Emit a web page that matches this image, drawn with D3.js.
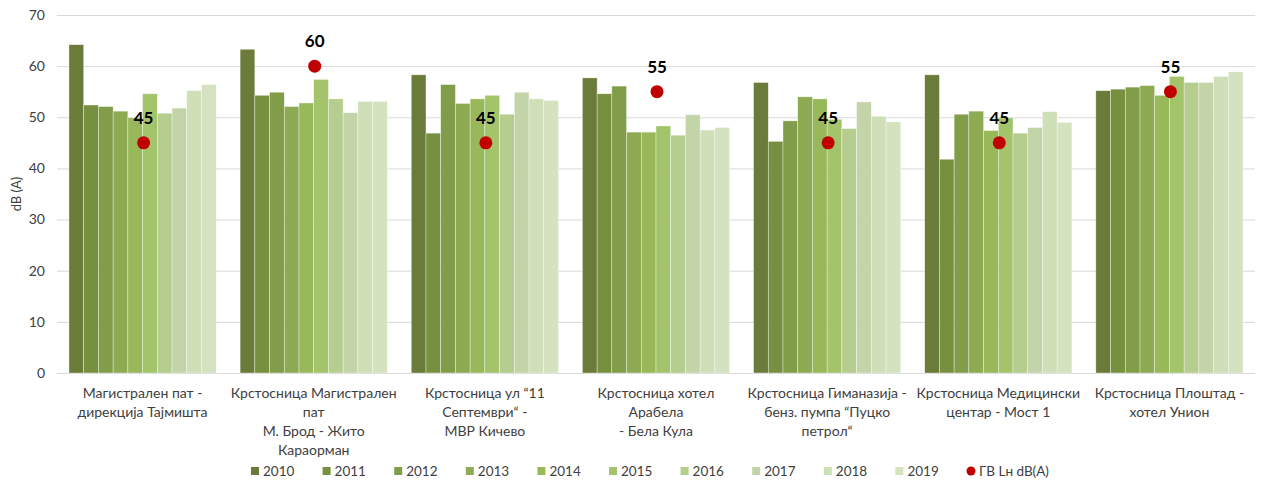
<!DOCTYPE html>
<html>
<head>
<meta charset="utf-8">
<script src="https://cdn.jsdelivr.net/npm/d3@7"></script>
<style>
  body { margin: 0; background: #fff; }
  svg { display: block; font-family: Lato, "Open Sans", sans-serif; }
</style>
</head>
<body>
<div id="chart"></div>
<script>
const width = 1261
const height = 482

// measuring points (x axis), each label split on lines
const sites = [
  ["Магистрален пат -", "дирекција Тајмишта"],
  ["Крстосница Магистрален", "пат", "М. Брод - Жито", "Караорман"],
  ["Крстосница ул “11", "Септември“ -", "МВР Кичево"],
  ["Крстосница хотел", "Арабела", "- Бела Кула"],
  ["Крстосница Гиманазија -", "бенз. пумпа “Пуцко", "петрол“"],
  ["Крстосница Медицински", "центар - Мост 1"],
  ["Крстосница Плоштад -", "хотел Унион"]
]

const years = ["2010", "2011", "2012", "2013", "2014", "2015", "2016", "2017", "2018", "2019"]

// Leq per site, one row per site, one value per year
const site1 = [64.2, 52.4, 52.1, 51.2, 49.9, 54.6, 50.8, 51.8, 55.2, 56.4]
const site2 = [63.3, 54.3, 54.9, 52.1, 52.8, 57.4, 53.6, 50.9, 53.1, 53.1]
const site3 = [58.3, 46.9, 56.4, 52.7, 53.6, 54.3, 50.6, 54.9, 53.6, 53.3]
const site4 = [57.7, 54.6, 56.1, 47.1, 47.1, 48.3, 46.5, 50.5, 47.5, 48.0]
const site5 = [56.8, 45.3, 49.3, 54.0, 53.6, 49.6, 47.8, 53.0, 50.2, 49.1]
const site6 = [58.3, 41.8, 50.6, 51.2, 47.4, 49.9, 46.9, 48.0, 51.1, 49.0]
const site7 = [55.2, 55.5, 55.9, 56.2, 54.3, 58.0, 56.8, 56.8, 58.0, 58.9]
const values = [site1, site2, site3, site4, site5, site6, site7]

// limit values (ГВ Lн dB(A))
const limits = [45, 60, 45, 55, 45, 45, 55]

const yTicks = [0, 10, 20, 30, 40, 50, 60, 70]

const colors = ["#6b7b3a", "#77903f", "#829d4a", "#8eaa52", "#98b85a",
                "#a3c46b", "#b5cd8e", "#c3d5a8", "#cfdfb8", "#d4e2bf"]

const margin = {top: 15, right: 6, bottom: 109, left: 57}

const svg = d3.select("#chart")
  .append("svg")
  .attr("width", width)
  .attr("height", height)

const y = d3.scaleLinear()
  .domain([0, 70])
  .range([height - margin.bottom, margin.top])

const x0 = d3.scaleBand()
  .domain(d3.range(sites.length))
  .range([margin.left, width - margin.right])
  .paddingInner(0.14)
  .paddingOuter(0.07)

const x1 = d3.scaleBand()
  .domain(years)
  .range([0, x0.bandwidth()])

// gridlines
svg.append("g")
  .selectAll("line")
  .data(yTicks)
  .join("line")
    .attr("x1", margin.left)
    .attr("x2", width - margin.right)
    .attr("y1", d => y(d) + 0.5)
    .attr("y2", d => y(d) + 0.5)
    .attr("stroke", "#d9d9d9")
    .attr("stroke-width", 1)

// y tick labels
svg.append("g")
  .selectAll("text")
  .data(yTicks)
  .join("text")
    .attr("x", 45)
    .attr("y", d => y(d))
    .attr("dy", "0.35em")
    .attr("text-anchor", "end")
    .attr("font-size", 14)
    .attr("fill", "#404040")
    .text(d => d)

svg.append("text")
  .attr("transform", `translate(16,${y(35)}) rotate(-90)`)
  .attr("text-anchor", "middle")
  .attr("dy", "0.35em")
  .attr("font-size", 13)
  .attr("fill", "#404040")
  .text("dB (A)")

// bars
const group = svg.append("g")
  .selectAll("g")
  .data(values)
  .join("g")
    .attr("transform", (d, i) => `translate(${x0(i)},0)`)

group.selectAll("rect")
  .data(d => d.map((v, j) => ({year: years[j], value: v, idx: j})))
  .join("rect")
    .attr("x", d => x1(d.year))
    .attr("width", x1.bandwidth())
    .attr("y", d => y(d.value))
    .attr("height", d => y(0) - y(d.value))
    .attr("fill", d => colors[d.idx])
    .attr("stroke", "#ffffff")
    .attr("stroke-opacity", 0.6)
    .attr("stroke-width", 0.6)

// limit dots
svg.append("g")
  .selectAll("circle")
  .data(limits)
  .join("circle")
    .attr("cx", (d, i) => x0(i) + x0.bandwidth() / 2 + 1)
    .attr("cy", d => y(d))
    .attr("r", 6.5)
    .attr("fill", "#c00000")

svg.append("g")
  .selectAll("text")
  .data(limits)
  .join("text")
    .attr("x", (d, i) => x0(i) + x0.bandwidth() / 2 + 1)
    .attr("y", d => y(d) - 19)
    .attr("text-anchor", "middle")
    .attr("font-size", 17)
    .attr("font-weight", "bold")
    .attr("fill", "#000")
    .text(d => d)

// x axis labels
const xl = svg.append("g")
  .selectAll("text")
  .data(sites)
  .join("text")
    .attr("x", (d, i) => x0(i) + x0.bandwidth() / 2)
    .attr("y", 398)
    .attr("text-anchor", "middle")
    .attr("font-size", 14)
    .attr("fill", "#404040")

xl.selectAll("tspan")
  .data(d => d)
  .join("tspan")
    .attr("x", function() { return this.parentNode.getAttribute("x") })
    .attr("dy", (d, i) => i === 0 ? 0 : 19)
    .text(d => d)

// legend
const legendItems = years.map((yr, i) => ({label: yr, color: colors[i], dot: false}))
legendItems.push({label: "ГВ Lн dB(A)", color: "#c00000", dot: true})

const legend = svg.append("g")
  .selectAll("g")
  .data(legendItems)
  .join("g")
    .attr("transform", (d, i) => `translate(${251 + i * 71.6},471)`)

legend.filter(d => !d.dot).append("rect")
  .attr("x", 0)
  .attr("y", -4)
  .attr("width", 8)
  .attr("height", 8)
  .attr("fill", d => d.color)

legend.filter(d => d.dot).append("circle")
  .attr("cx", 4)
  .attr("cy", 0)
  .attr("r", 4.5)
  .attr("fill", d => d.color)

legend.append("text")
  .attr("x", 12)
  .attr("dy", "0.35em")
  .attr("font-size", 13.5)
  .attr("fill", "#404040")
  .text(d => d.label)
</script>
</body>
</html>
